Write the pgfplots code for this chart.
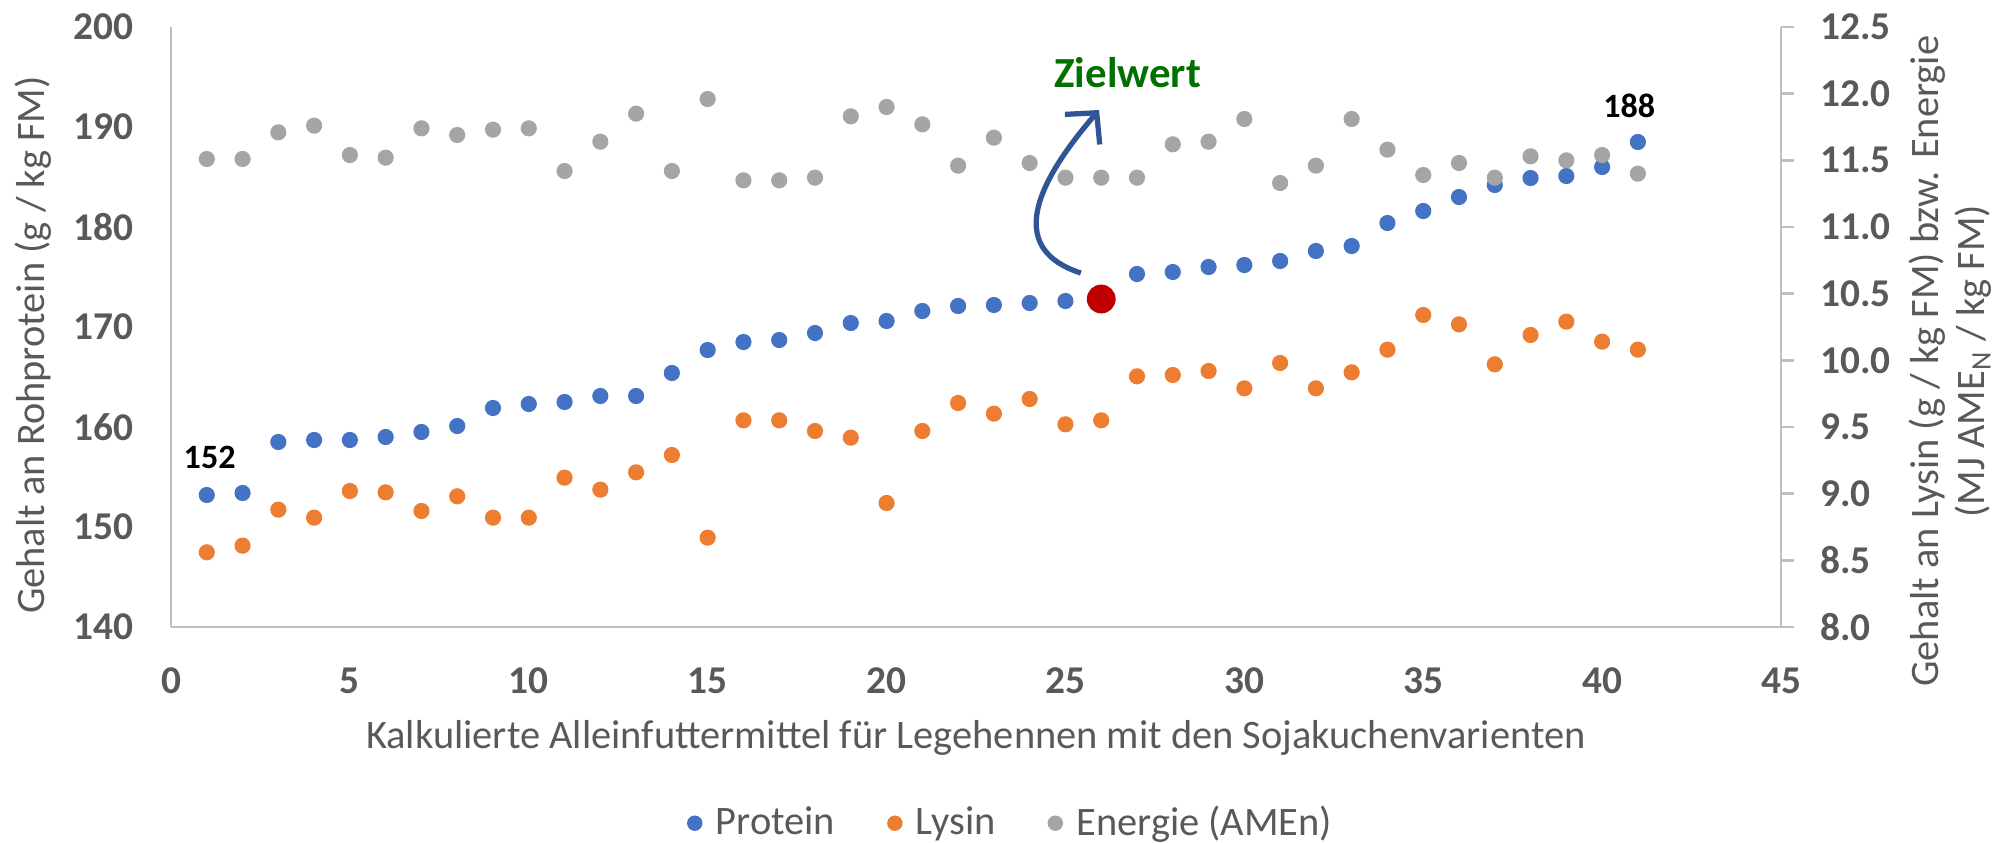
\documentclass[border=0pt]{standalone}
\usepackage{fontspec}
\setmainfont{Carlito}
\usepackage{pgfplots}
\usepackage{pgfplotstable}
\pgfplotsset{compat=1.18}
\usetikzlibrary{arrows.meta}
\definecolor{cprot}{HTML}{4472C4}
\definecolor{clys}{HTML}{ED7D31}
\definecolor{cen}{HTML}{A5A5A5}
\definecolor{ctxt}{HTML}{595959}
\definecolor{caxis}{HTML}{BFBFBF}
\definecolor{cziel}{HTML}{007000}
\definecolor{carrow}{HTML}{2F5597}
\definecolor{cred}{HTML}{C00000}

\pgfplotstableread{
x p l e
1 153.2 8.56 11.51
2 153.4 8.61 11.51
3 158.5 8.88 11.71
4 158.7 8.82 11.76
5 158.7 9.02 11.54
6 159.0 9.01 11.52
7 159.5 8.87 11.74
8 160.1 8.98 11.69
9 161.9 8.82 11.73
10 162.3 8.82 11.74
11 162.5 9.12 11.42
12 163.1 9.03 11.64
13 163.1 9.16 11.85
14 165.4 9.29 11.42
15 167.7 8.67 11.96
16 168.5 9.55 11.35
17 168.7 9.55 11.35
18 169.4 9.47 11.37
19 170.4 9.42 11.83
20 170.6 8.93 11.90
21 171.6 9.47 11.77
22 172.1 9.68 11.46
23 172.2 9.60 11.67
24 172.4 9.71 11.48
25 172.6 9.52 11.37
26 172.8 9.55 11.37
27 175.3 9.88 11.37
28 175.5 9.89 11.62
29 176.0 9.92 11.64
30 176.2 9.79 11.81
31 176.6 9.98 11.33
32 177.6 9.79 11.46
33 178.1 9.91 11.81
34 180.4 10.08 11.58
35 181.6 10.34 11.39
36 183.0 10.27 11.48
37 184.2 9.97 11.37
38 184.9 10.19 11.53
39 185.1 10.29 11.50
40 186.0 10.14 11.54
41 188.5 10.08 11.40
}\data

\begin{document}
\begin{tikzpicture}
\begin{axis}[
  scale only axis, width=161mm, height=60mm,
  xmin=0, xmax=45, ymin=140, ymax=200,
  axis x line*=bottom, axis y line*=left,
  axis line style={caxis, line width=0.7pt, -},
  xtick={0,5,...,45}, ytick={140,150,...,200},
  major tick length=0pt, tick style={draw=none},
  /pgf/number format/assume math mode=true,
  ticklabel style={font=\fontsize{11.2}{13}\selectfont\bfseries, text=ctxt},
  xticklabel style={anchor=center, inner sep=0pt, yshift=-5.4mm},
  yticklabel style={anchor=east, inner sep=0pt, xshift=-3.7mm},
  xlabel={Kalkulierte Alleinfuttermittel für Legehennen mit den Sojakuchenvarienten},
  xlabel style={at={(axis description cs:0.5,-0.185)}, anchor=center, font=\fontsize{11.5}{13}\selectfont, text=ctxt},
  ylabel={Gehalt an Rohprotein (g / kg FM)},
  ylabel style={at={(axis description cs:-0.0857,0.47)}, anchor=center, font=\fontsize{11.5}{13}\selectfont, text=ctxt},
  clip=false,
]
\addplot[only marks, mark=*, mark size=2.1pt, color=cprot] table[x=x, y=p] {\data};
\addplot[only marks, mark=*, mark size=3.9pt, color=cred] coordinates {(26,172.8)};
\node[font=\fontsize{9.7}{11}\selectfont\bfseries] at (axis cs:1.08,157) {152};
\node[font=\fontsize{9.7}{11}\selectfont\bfseries] at (axis cs:40.76,192.1) {188};
\node[font=\fontsize{12.2}{14}\selectfont\bfseries, text=cziel] at (axis cs:26.74,195.4) {Zielwert};
\draw[carrow, line width=1.5pt, -{Straight Barb[length=2.2mm, width=4.6mm, line width=1.5pt]}]
  (axis cs:25.43,175.4) .. controls (axis cs:23.45,177.7) and (axis cs:24.01,183.7) .. (axis cs:25.94,191.7);
\end{axis}
\begin{axis}[
  scale only axis, width=161mm, height=60mm,
  xmin=0, xmax=45, ymin=8, ymax=12.5,
  axis x line=none, axis y line*=right,
  axis line style={caxis, line width=0.7pt, -},
  ytick={8,8.5,...,12.5},
  tick align=outside, major tick length=1.25mm,
  ytick style={caxis, line width=0.7pt},
  /pgf/number format/assume math mode=true,
  ticklabel style={font=\fontsize{11.2}{13}\selectfont\bfseries, text=ctxt},
  yticklabel style={/pgf/number format/fixed, /pgf/number format/fixed zerofill, /pgf/number format/precision=1, anchor=west, inner sep=0pt, xshift=2.6mm},
  ylabel={Gehalt an Lysin (g / kg FM) bzw. Energie\\(MJ AME\textsubscript{N} / kg FM)},
  ylabel style={at={(axis description cs:1.105,0.443)}, anchor=center, align=center, font=\fontsize{11.5}{13}\selectfont, text=ctxt},
  legend style={at={(axis description cs:0.523,-0.327)}, anchor=center, draw=none, fill=none,
    legend columns=-1, font=\fontsize{11.5}{13}\selectfont, text=ctxt,
    /tikz/every even column/.append style={column sep=4.5mm}},
  legend image code/.code={\fill[#1] (0mm,0mm) circle (0.7mm); \path[draw=none, fill=none] (1.4mm,0mm) circle (0pt);},
  clip=false,
]
\addlegendimage{only marks, mark=*, color=cprot}
\addlegendentry{Protein}
\addplot[only marks, mark=*, mark size=2.1pt, color=clys] table[x=x, y=l] {\data};
\addlegendentry{Lysin}
\addplot[only marks, mark=*, mark size=2.1pt, color=cen] table[x=x, y=e] {\data};
\addlegendentry{Energie (AMEn)}
\end{axis}
\pgfresetboundingbox
\path (-17.1mm,-21.6mm) rectangle (184mm,62.7mm);
\end{tikzpicture}
\end{document}
